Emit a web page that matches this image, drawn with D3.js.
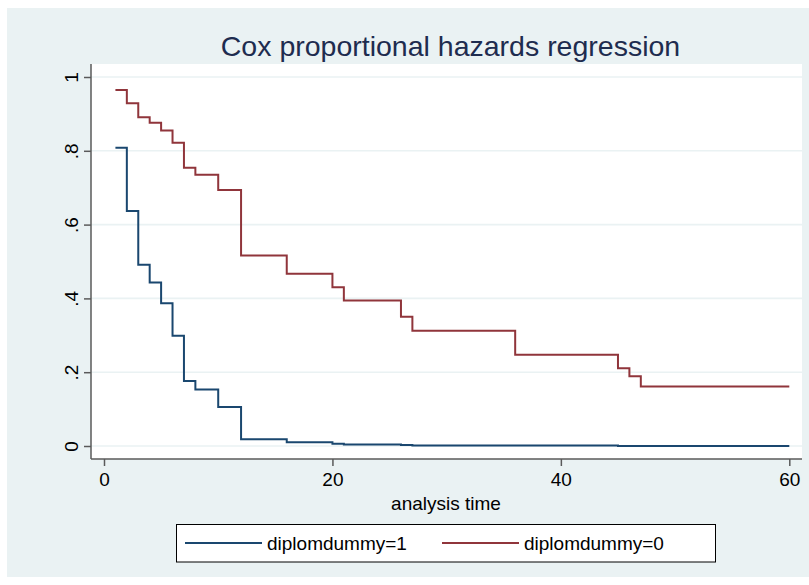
<!DOCTYPE html>
<html>
<head>
<meta charset="utf-8">
<script src="https://cdn.jsdelivr.net/npm/d3@7"></script>
<style>
  html, body { margin: 0; padding: 0; background: #ffffff; }
  svg { display: block; }
  text { font-family: "Liberation Sans", Arial, sans-serif; }
</style>
</head>
<body>
<script>
const titleText = "Cox proportional hazards regression";
const xAxisTitle = "analysis time";
const seriesNames = ["diplomdummy=1", "diplomdummy=0"];
const xTicks = [0, 20, 40, 60];
const yTicks = [0, 0.2, 0.4, 0.6, 0.8, 1];
const yTickLabels = ["0", ".2", ".4", ".6", ".8", "1"];

const times1 = [1, 2, 3, 4, 5, 6, 7, 8, 10, 12, 16, 20, 21, 26, 27, 36, 45, 46, 47, 60];
const surv1  = [0.808, 0.637, 0.491, 0.443, 0.387, 0.299, 0.176, 0.153, 0.106, 0.018, 0.010, 0.006, 0.004, 0.0025, 0.0015, 0.0015, 0.0003, 0.0003, 0.0003, 0.0003];

const times0 = [1, 2, 3, 4, 5, 6, 7, 8, 10, 12, 16, 20, 21, 26, 27, 36, 45, 46, 47, 60];
const surv0  = [0.965, 0.929, 0.891, 0.876, 0.855, 0.822, 0.754, 0.735, 0.694, 0.516, 0.467, 0.430, 0.394, 0.350, 0.312, 0.247, 0.211, 0.189, 0.161, 0.161];

const colors = ["#1a476f", "#90353b"];

const W = 809, H = 585;
const svg = d3.select("body").append("svg").attr("width", W).attr("height", H);

// outer background
svg.append("rect").attr("x", 7).attr("y", 8).attr("width", W - 7).attr("height", H - 16).attr("fill", "#eaf2f3");

// plot region
const plot = { left: 91, right: 802, top: 64, bottom: 459 };
svg.append("rect").attr("x", plot.left).attr("y", plot.top)
  .attr("width", plot.right - plot.left).attr("height", plot.bottom - plot.top).attr("fill", "#ffffff");

const x = d3.scaleLinear().domain([0, 60]).range([104, 789.3]);
const y = d3.scaleLinear().domain([0, 1]).range([446, 77]);

// gridlines
svg.append("g").selectAll("line").data(yTicks).join("line")
  .attr("x1", plot.left).attr("x2", plot.right)
  .attr("y1", d => y(d)).attr("y2", d => y(d))
  .attr("stroke", "#eaf2f3").attr("stroke-width", 1.6);

// title
svg.append("text").attr("x", (plot.left + plot.right) / 2 + 4).attr("y", 56)
  .attr("text-anchor", "middle").attr("font-size", 28.5).attr("fill", "#1e2c4f")
  .text(titleText);

// step lines
const line = d3.line().curve(d3.curveStepAfter).x(d => x(d[0])).y(d => y(d[1]));
const data1 = times1.map((t, i) => [t, surv1[i]]);
const data0 = times0.map((t, i) => [t, surv0[i]]);
svg.append("path").datum(data1).attr("d", line).attr("fill", "none")
  .attr("stroke", colors[0]).attr("stroke-width", 2);
svg.append("path").datum(data0).attr("d", line).attr("fill", "none")
  .attr("stroke", colors[1]).attr("stroke-width", 2);

// y axis
const yAxis = d3.axisLeft(y).tickValues(yTicks).tickSize(7).tickFormat((d, i) => yTickLabels[i]);
const gy = svg.append("g").attr("transform", `translate(${plot.left},0)`).call(yAxis);
gy.select(".domain").attr("d", `M0,${plot.top}V${plot.bottom}`).attr("stroke", "#5a5a5a").attr("stroke-width", 1.5);
gy.selectAll(".tick line").attr("stroke", "#5a5a5a").attr("stroke-width", 1.5);
gy.selectAll(".tick text")
  .attr("x", null).attr("dy", null)
  .attr("font-size", 19).attr("fill", "#000")
  .attr("text-anchor", "middle")
  .attr("transform", "translate(-13,0) rotate(-90)")
  .attr("y", 0).attr("dy", "-0.02em");

// x axis
const xAxis = d3.axisBottom(x).tickValues(xTicks).tickSize(7).tickFormat(d3.format("d"));
const gx = svg.append("g").attr("transform", `translate(0,${plot.bottom})`).call(xAxis);
gx.select(".domain").attr("d", `M${plot.left},0H${plot.right}`).attr("stroke", "#5a5a5a").attr("stroke-width", 1.5);
gx.selectAll(".tick line").attr("stroke", "#5a5a5a").attr("stroke-width", 1.5);
gx.selectAll(".tick text").attr("font-size", 19).attr("fill", "#000").attr("y", 14);

// x axis title
svg.append("text").attr("x", 446).attr("y", 510).attr("text-anchor", "middle")
  .attr("font-size", 19).attr("fill", "#000").text(xAxisTitle);

// legend
const lg = svg.append("g");
lg.append("rect").attr("x", 176.5).attr("y", 524.5).attr("width", 539).attr("height", 37.5)
  .attr("fill", "#ffffff").attr("stroke", "#000").attr("stroke-width", 1);
const legendX = [185, 442];
seriesNames.forEach((name, i) => {
  lg.append("line").attr("x1", legendX[i]).attr("x2", legendX[i] + 77)
    .attr("y1", 543).attr("y2", 543).attr("stroke", colors[i]).attr("stroke-width", 2);
  lg.append("text").attr("x", legendX[i] + 82).attr("y", 549.5)
    .attr("font-size", 19).attr("fill", "#000").text(name);
});
</script>
</body>
</html>
